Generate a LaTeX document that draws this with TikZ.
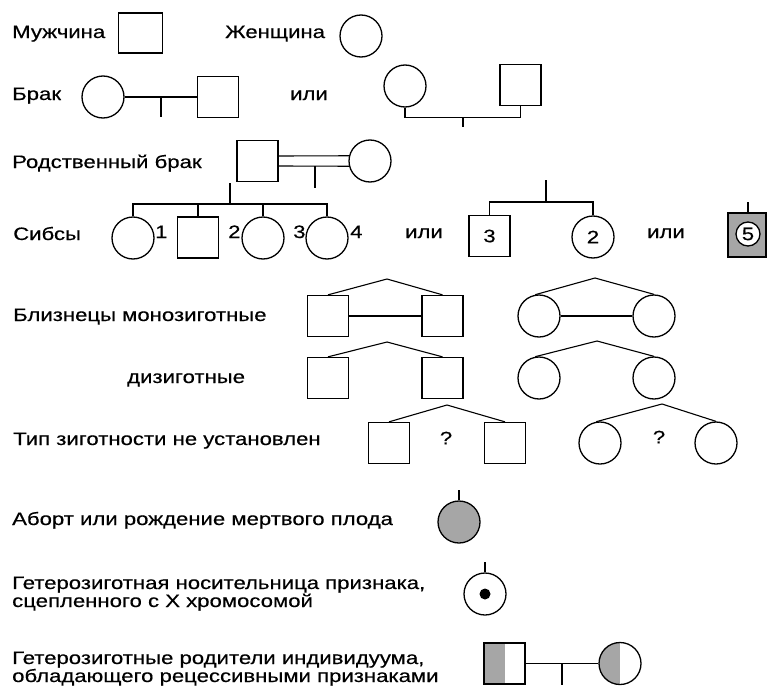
\documentclass[tikz,border=0pt]{standalone}
\usepackage{fontspec}
\setmainfont{Liberation Sans}[FakeStretch=1.23, FakeBold=0.4]
\begin{document}
\begin{tikzpicture}[x=1pt,y=-1pt,
  sq/.style={draw, line width=1.3pt, rectangle, minimum width=41pt, minimum height=41pt, inner sep=0pt, font=\fontsize{18}{18}\selectfont},
  ci/.style={draw, line width=1.3pt, circle, minimum size=42pt, inner sep=0pt, font=\fontsize{18}{18}\selectfont},
  lbl/.style={anchor=base west, inner sep=0pt, font=\fontsize{18}{18}\selectfont},
  qm/.style={inner sep=0pt, font=\fontsize{18}{18}\selectfont},
  ln/.style={line width=1.1pt},
  halfshade/.style={path picture={\fill[black!35] (path picture bounding box.north west) rectangle (path picture bounding box.south);}}]
\useasboundingbox (0,0) rectangle (768,693);

% Row 1
\node[lbl] (tM) at (12,38) {Мужчина};
\node[sq, minimum width=44pt, minimum height=40pt] (m1) at (140.5,33) {};
\node[lbl] (tF) at (225,38) {Женщина};
\node[ci] (f1) at (361,36) {};

% Row 2: marriage
\node[lbl] (tB) at (12,100) {Брак};
\node[ci] (b1f) at (103,97) {};
\node[sq] (b1m) at (218,97) {};
\draw[ln] (b1f) -- (b1m);
\coordinate (b1c) at (161,97);
\draw[ln] (b1c) -- ++(0,20);
\node[lbl] (tOr1) at (290,100) {или};
\node[ci] (b2f) at (405,86) {};
\node[sq] (b2m) at (520.5,85) {};
\draw[ln] (b2f.south) -- ++(0,10) -| (b2m.south);
\coordinate (b2c) at (463,117);
\draw[ln] (b2c) -- ++(0,10);

% Row 3: consanguineous marriage
\node[lbl] (tR) at (12,168) {Родственный брак};
\node[sq] (rm) at (257.5,161) {};
\node[ci] (rf) at (370,161) {};
\draw[ln] ([yshift=5pt]rm.east) -- (rf.166);
\draw[ln] ([yshift=-5pt]rm.east) -- (rf.194);
\coordinate (rc) at (315,166);
\draw[ln] (rc) -- ++(0,22);

% Sibs
\node[lbl] (tS) at (13,240) {Сибсы};
\node[ci] (sA) at (133,238) {};
\node[sq] (sB) at (198,237.5) {};
\node[ci] (sC) at (263,238) {};
\node[ci] (sD) at (327,238) {};
\node[lbl] (n1) at (155,238) {1};
\node[lbl] (n2) at (228,238) {2};
\node[lbl] (n3) at (293,238) {3};
\node[lbl] (n4) at (350,238) {4};
\coordinate (sbar) at (230,204);
\coordinate (stop) at (230,183);
\draw[ln] (stop) -- (sbar);
\draw[ln] (sA.north) -- (sA.north |- sbar) -- (sD.north |- sbar) -- (sD.north);
\draw[ln] (sB.north) -- (sB.north |- sbar);
\draw[ln] (sC.north) -- (sC.north |- sbar);

\node[lbl] (tOr2) at (405,238) {или};
\node[sq] (sE) at (489.5,236) {3};
\node[ci] (sF) at (593,237) {2};
\coordinate (sbar2) at (546,202);
\coordinate (stop2) at (546,180);
\draw[ln] (stop2) -- (sbar2);
\draw[ln] (sE.north) -- (sE.north |- sbar2) -- (sF.north |- sbar2) -- (sF.north);

\node[lbl] (tOr3) at (647,238) {или};
\node[sq, fill=black!35, minimum width=38pt, minimum height=44pt] (s5) at (747,235) {};
\node[ci, fill=white, minimum size=24pt] (c5) at (748,234) {5};
\coordinate (s5top) at (748,202);
\draw[ln] (s5top) -- (s5top |- s5.north);

% Twins: monozygotic
\node[lbl] (tTw) at (13,321) {Близнецы монозиготные};
\node[sq] (tm1) at (328,316) {};
\node[sq] (tm2) at (442.5,316) {};
\coordinate (am) at (387,279);
\draw[ln] (tm1.north) -- (am) -- (tm2.north);
\draw[ln] (tm1) -- (tm2);
\node[ci] (cm1) at (539,316) {};
\node[ci] (cm2) at (654,316) {};
\coordinate (acm) at (595,278);
\draw[ln] (cm1.100) -- (acm) -- (cm2.north);
\draw[ln] (cm1) -- (cm2);

% Twins: dizygotic
\node[lbl] (tDi) at (127,383) {дизиготные};
\node[sq] (td1) at (328,378) {};
\node[sq] (td2) at (442.5,378) {};
\coordinate (ad) at (387,342);
\draw[ln] (td1.north) -- (ad) -- (td2.north);
\node[ci] (cd1) at (539,378) {};
\node[ci] (cd2) at (654,378) {};
\coordinate (acd) at (597,341);
\draw[ln] (cd1.100) -- (acd) -- (cd2.north);

% Twins: unknown zygosity
\node[lbl] (tUn) at (13,445) {Тип зиготности не установлен};
\node[sq] (tu1) at (389,443) {};
\node[sq] (tu2) at (505,443) {};
\coordinate (au) at (447,405);
\draw[ln] (tu1.north) -- (au) -- (tu2.north);
\node[qm] (q1) at (446,438) {?};
\node[ci] (cu1) at (600,443) {};
\node[ci] (cu2) at (716,443) {};
\coordinate (acu) at (662,404);
\draw[ln] (cu1.100) -- (acu) -- (cu2.north);
\node[qm] (q2) at (659,437) {?};

% Abortion
\node[lbl] (tAb) at (12,525) {Аборт или рождение мертвого плода};
\node[ci, fill=black!35] (ab) at (459,522) {};
\coordinate (abtop) at (459,490);
\draw[ln] (abtop) -- (ab.north);

% Carrier
\node[lbl] (tC1) at (12,589) {Гетерозиготная носительница признака,};
\node[lbl] (tC2) at (12,607) {сцепленного с Х хромосомой};
\node[ci] (cc) at (485,594) {};
\node[circle, fill=black, minimum size=11pt, inner sep=0pt] (cdot) at (cc.center) {};
\coordinate (cctop) at (485,562);
\draw[ln] (cctop) -- (cc.north);

% Heterozygous parents
\node[lbl] (tP1) at (12,664) {Гетерозиготные родители индивидуума,};
\node[lbl] (tP2) at (12,682) {обладающего рецессивными признаками};
\node[sq, halfshade] (ps) at (504.5,663.5) {};
\node[ci, halfshade] (pc) at (620,663.5) {};
\draw[ln] (ps) -- (pc);
\coordinate (pmid) at (562,663.5);
\draw[ln] (pmid) -- ++(0,21);
\end{tikzpicture}
\end{document}
